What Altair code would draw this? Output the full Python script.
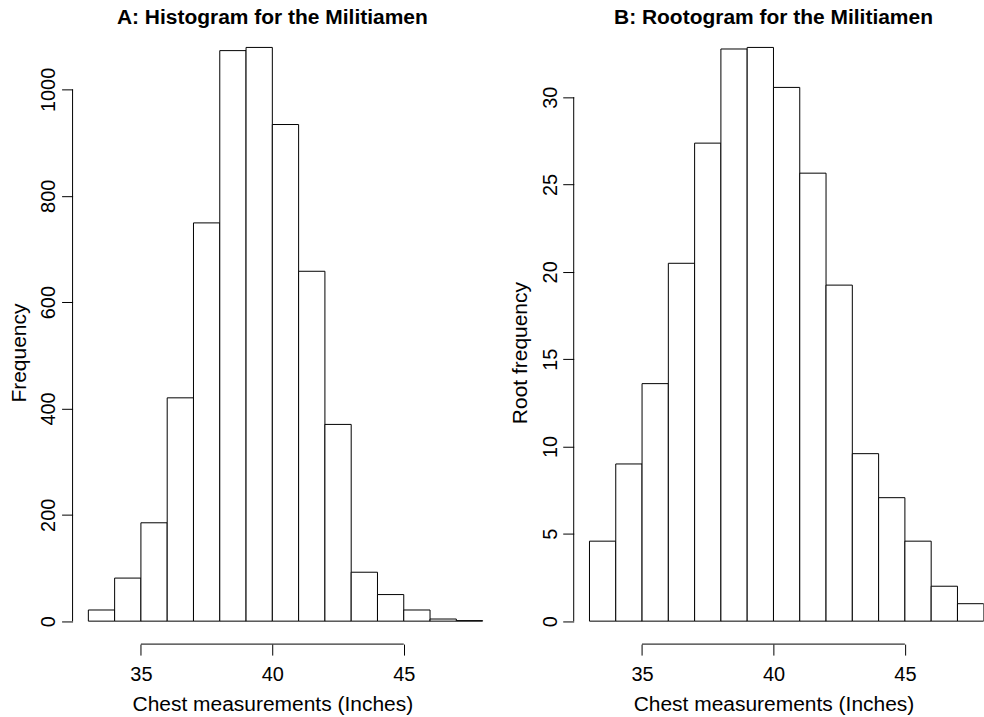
import altair as alt
import pandas as pd

# ---- data ----
bin_start = [33, 34, 35, 36, 37, 38, 39, 40, 41, 42, 43, 44, 45, 46, 47]
bin_end = [34, 35, 36, 37, 38, 39, 40, 41, 42, 43, 44, 45, 46, 47, 48]
frequency = [21, 81, 185, 420, 749, 1073, 1079, 934, 658, 370, 92, 50, 21, 4, 1]
root_frequency = [4.58, 9.0, 13.6, 20.49, 27.37, 32.76, 32.85, 30.56, 25.65, 19.24,
                  9.59, 7.07, 4.58, 2.0, 1.0]
x_ticks = [35, 40, 45]
freq_ticks = [0, 200, 400, 600, 800, 1000]
root_ticks = [0, 5, 10, 15, 20, 25, 30]

FONT = "Liberation Sans"
PX_PER_INCH = 26.33
H = 620.7


def panel(values, yticks, ytitle, title, xdomain, ymax, title_dx):
    width = (xdomain[1] - xdomain[0]) * PX_PER_INCH
    df = pd.DataFrame({"start": bin_start, "end": bin_end, "value": values})
    xs = alt.Scale(domain=xdomain, nice=False, zero=False)
    ys = alt.Scale(domain=[-0.04 * ymax, 1.04 * ymax], nice=False, zero=False)
    x_center = (40 - xdomain[0]) * PX_PER_INCH

    bars = alt.Chart(df).mark_rect(
        fill="white", stroke="black", strokeWidth=1, clip=True
    ).encode(
        x=alt.X("start:Q", scale=xs, axis=alt.Axis(
            values=x_ticks, domain=False, grid=False, ticks=True, tickSize=11,
            tickColor="black", tickWidth=1, labelPadding=25.7,
            labelBaseline="alphabetic", labelAlign="center", labelFontSize=20,
            labelFont=FONT, labelColor="black", labelFlush=False,
            labelOverlap=False, format="d",
            title="Chest measurements (Inches)", titleX=x_center, titleY=66.5,
            titleAlign="center", titleAnchor="start", titleBaseline="alphabetic",
            titleFontSize=21, titleFont=FONT, titleFontWeight="normal",
            titleColor="black")),
        x2="end:Q",
        y=alt.Y("value:Q", scale=ys, axis=alt.Axis(
            values=yticks, domain=False, grid=False, tickSize=11,
            tickColor="black", tickWidth=1, labelAngle=-90,
            labelAlign="center", labelBaseline="alphabetic", labelPadding=6.7,
            labelFontSize=20, labelFont=FONT, labelColor="black",
            labelFlush=False, labelOverlap=False, format="d",
            title=ytitle, titleX=-47.4, titleY=328.7, titleAngle=-90,
            titleAlign="center", titleAnchor="start", titleBaseline="alphabetic",
            titleFontSize=21, titleFont=FONT, titleFontWeight="normal",
            titleColor="black")),
        y2=alt.datum(0),
    )

    one = pd.DataFrame({"k": [0]})
    xline = alt.Chart(one).mark_rule(color="black", strokeWidth=1).encode(
        x=alt.datum(x_ticks[0]), x2=alt.datum(x_ticks[-1]), y=alt.value(H)
    )
    yline = alt.Chart(one).mark_rule(color="black", strokeWidth=1).encode(
        x=alt.value(0), y=alt.datum(yticks[0]), y2=alt.datum(yticks[-1])
    )

    return alt.layer(bars, xline, yline).properties(
        width=width, height=H,
        title=alt.TitleParams(
            text=title, font=FONT, fontSize=21, fontWeight="bold",
            color="black", anchor="middle", frame="group", offset=-20.8,
            baseline="alphabetic", dx=title_dx),
    )


A = panel(frequency, freq_ticks, "Frequency", "A: Histogram for the Militiamen",
          [32.4, 48.6], 1079, (40 - 32.4) * PX_PER_INCH - 16.2 * PX_PER_INCH / 2)
B = panel(root_frequency, root_ticks, "Root frequency",
          "B: Rootogram for the Militiamen",
          [32.4, 48.0], 32.85, (40 - 32.4) * PX_PER_INCH - 15.6 * PX_PER_INCH / 2)

chart = alt.hconcat(A, B, spacing=75, bounds="flush").properties(
    padding={"left": 7.7, "top": 5.9, "right": 0, "bottom": 0}
).configure_view(stroke=None)

chart.save("out.html", embed_options={"renderer": "svg", "actions": False})
